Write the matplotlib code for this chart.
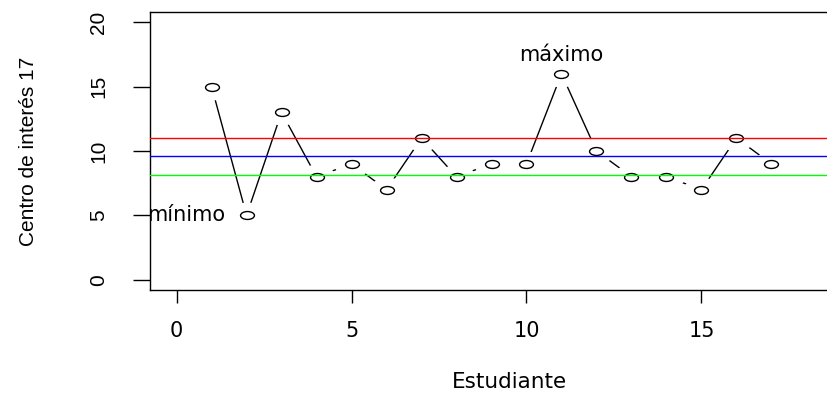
import numpy as np
import matplotlib
matplotlib.use("Agg")
import matplotlib.pyplot as plt
from matplotlib.path import Path
from matplotlib.transforms import ScaledTranslation

# Data
estudiante = list(range(1, 18))
centro17 = [15, 5, 13, 8, 9, 7, 11, 8, 9, 9, 16, 10, 8, 8, 7, 11, 9]
linea_sup = 11.03   # red
linea_media = 9.59  # blue
linea_inf = 8.15    # green
xticks = [0, 5, 10, 15]
yticks = [0, 5, 10, 15, 20]

hfont = "DejaVu Sans"
vfont = "Liberation Sans"

# stretched ellipse markers (the reference is wider than tall)
circ = Path.unit_circle()
ring = Path(circ.vertices * np.array([1.0, 0.57]), circ.codes)
halo = Path(circ.vertices * np.array([1.0, 0.72]), circ.codes)

fig = plt.figure(figsize=(8.28, 3.99), dpi=100)
ax = fig.add_axes([150/828, 109/399, 718/828, 278/399])

ax.plot(estudiante, centro17, color="black", lw=1.0, zorder=2)
ax.plot(estudiante, centro17, ls="none", marker=halo, ms=26, mfc="white",
        mec="none", zorder=3)
ax.plot(estudiante, centro17, ls="none", marker=ring, ms=10, mfc="none",
        mec="black", mew=1.0, zorder=4)

ax.axhline(linea_sup, color="#FF0000", lw=1.0, zorder=5)
ax.axhline(linea_media, color="#0000FF", lw=1.0, zorder=5)
ax.axhline(linea_inf, color="#00FF00", lw=1.0, zorder=5)

i_max = int(np.argmax(centro17))
i_min = int(np.argmin(centro17))
ax.text(estudiante[i_max], centro17[i_max], "máximo", family=hfont, fontsize=15,
        ha="center", va="baseline", clip_on=True, zorder=6,
        transform=ax.transData + ScaledTranslation(0, 9/72, fig.dpi_scale_trans))
ax.text(estudiante[i_min], centro17[i_min], "mínimo", family=hfont, fontsize=15,
        ha="right", va="center", clip_on=True, zorder=6,
        transform=ax.transData + ScaledTranslation(-15/72, 0, fig.dpi_scale_trans))

ax.set_xlim(-0.76, 19.76)
ax.set_ylim(-0.8, 20.8)
ax.set_xticks(xticks)
ax.set_yticks(yticks)
ax.set_xticklabels([str(v) for v in xticks], family=hfont, fontsize=15)
ax.set_yticklabels([str(v) for v in yticks], family=vfont, fontsize=15,
                   rotation=90, va="center")
ax.tick_params(axis="x", length=9, width=1.0, pad=13)
ax.tick_params(axis="y", length=12, width=1.0, pad=18)
for s in ax.spines.values():
    s.set_linewidth(1.0)

ax.set_xlabel("Estudiante", family=hfont, fontsize=15.5, labelpad=23)
ax.set_ylabel("Centro de interés 17", family=vfont, fontsize=15, labelpad=37)

fig.savefig("out.png", dpi=100)
